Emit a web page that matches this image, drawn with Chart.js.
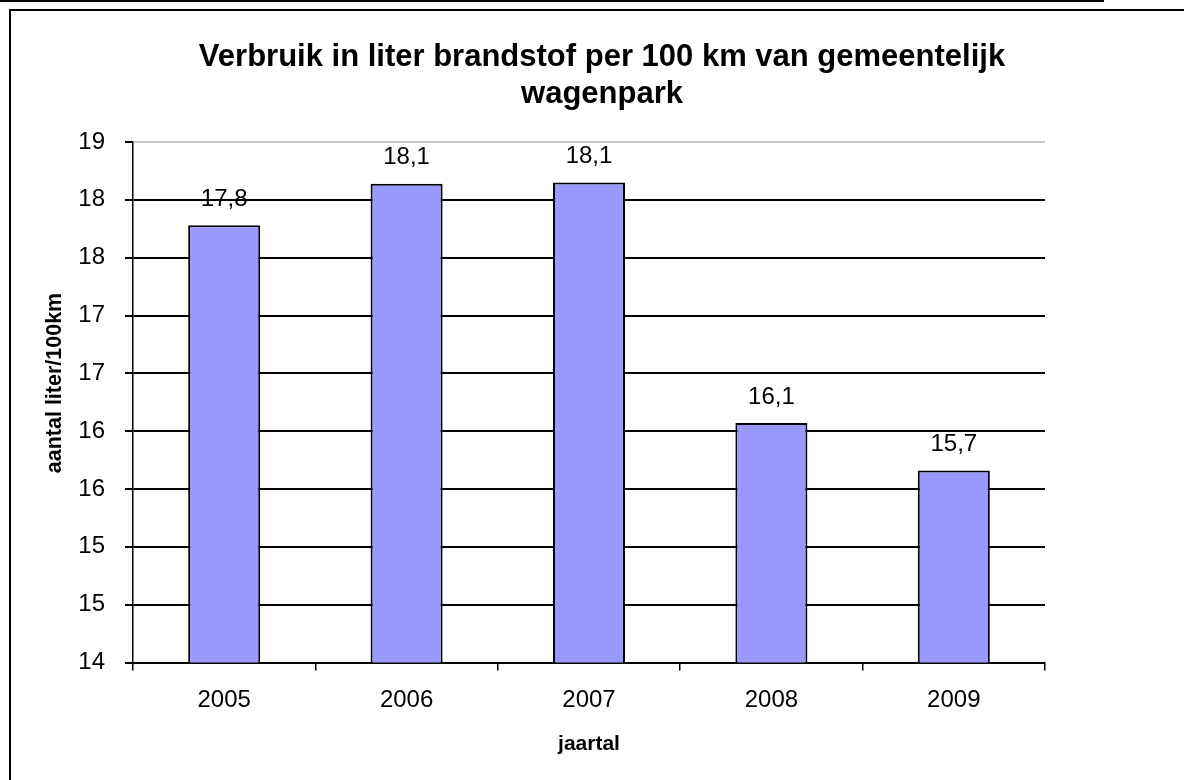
<!DOCTYPE html>
<html>
<head>
<meta charset="utf-8">
<script src="https://cdn.jsdelivr.net/npm/chart.js@4/dist/chart.umd.min.js"></script>
<style>
  body { margin: 0; background: #fff; overflow: hidden; }
  #topline { position: absolute; left: 0; top: 0; width: 1104px; height: 2px; background: #000; }
  #frame { position: absolute; left: 9px; top: 9px; width: 1300px; height: 900px;
           border-left: 2px solid #000; border-top: 2px solid #000; }
  #box { position: relative; width: 1173px; height: 769px; }
</style>
</head>
<body>
<div id="topline"></div>
<div id="frame">
  <div id="box"><canvas id="fuelChart"></canvas></div>
</div>
<script>
const years = ['2005', '2006', '2007', '2008', '2009'];
const litersPer100 = [17.78, 18.14, 18.15, 16.07, 15.66];
const titleLines = ['Verbruik in liter brandstof per 100 km van gemeentelijk', 'wagenpark'];
const yTitle = 'aantal liter/100km';
const xTitle = 'jaartal';

const FONT = '"Liberation Sans", Arial, sans-serif';

// title + y-axis title drawn by hand so they sit off-centre like the original
const titlePlugin = {
  id: 'titleLines',
  afterDraw(chart) {
    const ctx = chart.ctx;
    ctx.save();
    ctx.font = 'bold 31px ' + FONT;
    ctx.fillStyle = '#000';
    ctx.textAlign = 'center';
    ctx.textBaseline = 'alphabetic';
    ctx.fillText(titleLines[0], 591, 55);
    ctx.fillText(titleLines[1], 591, 92);

    ctx.translate(44, 372);
    ctx.rotate(-Math.PI / 2);
    ctx.font = 'bold 21.5px ' + FONT;
    ctx.textBaseline = 'middle';
    ctx.fillText(yTitle, 0, 0);
    ctx.restore();
  }
};

// value labels above each bar, comma decimals
const valueLabels = {
  id: 'valueLabels',
  afterDatasetsDraw(chart) {
    const ctx = chart.ctx;
    const meta = chart.getDatasetMeta(0);
    ctx.save();
    ctx.font = '24px ' + FONT;
    ctx.fillStyle = '#000';
    ctx.textAlign = 'center';
    ctx.textBaseline = 'middle';
    meta.data.forEach((bar, i) => {
      const txt = litersPer100[i].toFixed(1).replace('.', ',');
      ctx.fillText(txt, bar.x, bar.y - 26);
    });
    ctx.restore();
  }
};

const ctx = document.getElementById('fuelChart').getContext('2d');
new Chart(ctx, {
  type: 'bar',
  data: {
    labels: years,
    datasets: [{
      data: litersPer100,
      backgroundColor: '#9999ff',
      borderColor: '#000',
      borderWidth: 2,
      barPercentage: 0.395,
      categoryPercentage: 1
    }]
  },
  options: {
    responsive: true,
    maintainAspectRatio: false,
    animation: false,
    layout: { padding: { top: 131, left: 16, right: 139, bottom: 19.5 } },
    plugins: {
      legend: { display: false },
      tooltip: { enabled: false },
      title: { display: false }
    },
    scales: {
      x: {
        afterFit: (s) => { s.height = 98; },
        grid: { drawOnChartArea: false, offset: true, tickLength: 8, tickColor: '#000', lineWidth: 1.5 },
        border: { color: '#000', width: 1.5 },
        ticks: { color: '#000', padding: 15, font: { family: FONT, size: 24 } },
        title: { display: true, text: xTitle, color: '#000', padding: { top: 17, bottom: 4 },
                 font: { family: FONT, size: 21, weight: 'bold' } }
      },
      y: {
        min: 14,
        max: 18.5,
        afterFit: (s) => { s.width = 106; },
        grid: {
          color: (c) => (c.tick && c.tick.value === 18.5 ? '#c8c8c8' : '#000'),
          tickColor: '#000',
          lineWidth: 2,
          tickLength: 8
        },
        border: { color: '#000', width: 1.5 },
        ticks: {
          stepSize: 0.5,
          color: '#000',
          padding: 20,
          font: { family: FONT, size: 24 },
          callback: (v) => Math.round(v)
        },
        title: { display: false }
      }
    }
  },
  plugins: [valueLabels, titlePlugin]
});
</script>
</body>
</html>
